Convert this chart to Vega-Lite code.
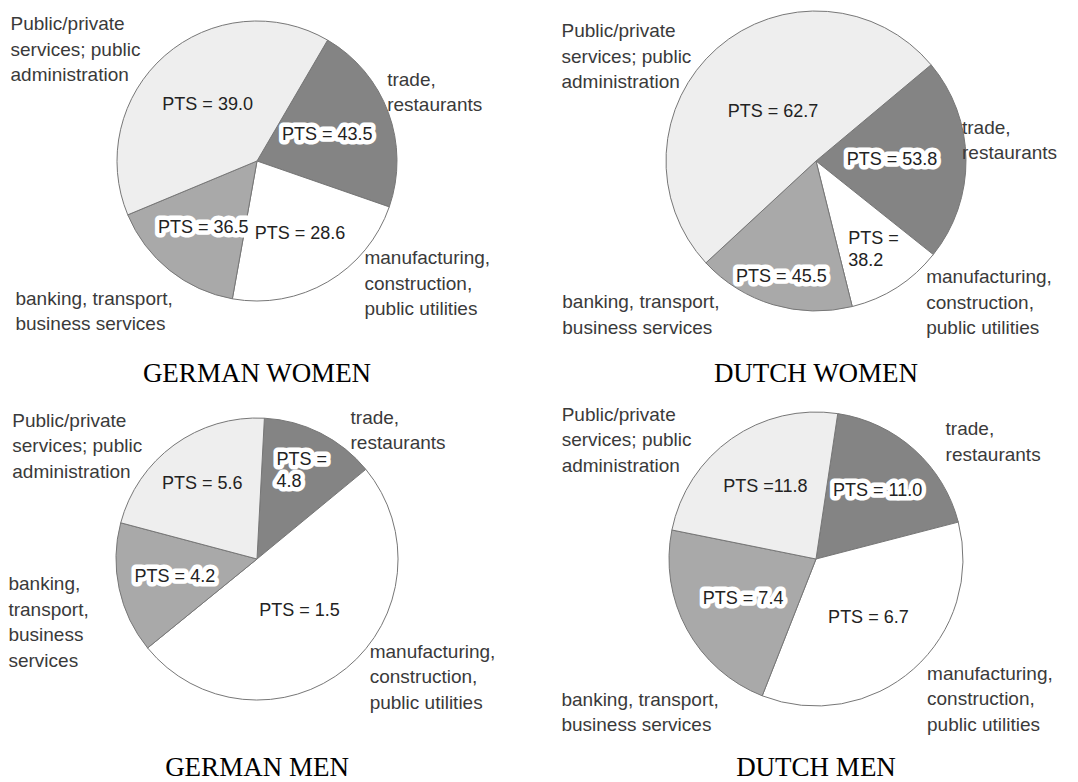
{
  "$schema": "https://vega.github.io/schema/vega-lite/v6.json",
  "padding": 0,
  "bounds": "flush",
  "background": "white",
  "columns": 2,
  "spacing": {"row": 76, "column": 45},
  "config": {"view": {"stroke": null}, "font": "Liberation Sans"},
  "datasets": {
    "pies": [
      {"panel": "GW", "cat": "trade", "k": 1, "share": 21.9, "pts": "PTS = 43.5", "label": "trade,\nrestaurants"},
      {"panel": "GW", "cat": "manuf", "k": 2, "share": 22.5, "pts": "PTS = 28.6", "label": "manufacturing,\nconstruction,\npublic utilities"},
      {"panel": "GW", "cat": "banking", "k": 3, "share": 15.9, "pts": "PTS = 36.5", "label": "banking, transport,\nbusiness services"},
      {"panel": "GW", "cat": "public", "k": 4, "share": 39.7, "pts": "PTS = 39.0", "label": "Public/private\nservices; public\nadministration"},
      {"panel": "DW", "cat": "trade", "k": 1, "share": 21.8, "pts": "PTS = 53.8", "label": "trade,\nrestaurants"},
      {"panel": "DW", "cat": "manuf", "k": 2, "share": 10.4, "pts": "PTS =\n38.2", "label": "manufacturing,\nconstruction,\npublic utilities"},
      {"panel": "DW", "cat": "banking", "k": 3, "share": 17.0, "pts": "PTS = 45.5", "label": "banking, transport,\nbusiness services"},
      {"panel": "DW", "cat": "public", "k": 4, "share": 50.8, "pts": "PTS = 62.7", "label": "Public/private\nservices; public\nadministration"},
      {"panel": "GM", "cat": "trade", "k": 1, "share": 13.2, "pts": "PTS =\n4.8", "label": "trade,\nrestaurants"},
      {"panel": "GM", "cat": "manuf", "k": 2, "share": 50.1, "pts": "PTS = 1.5", "label": "manufacturing,\nconstruction,\npublic utilities"},
      {"panel": "GM", "cat": "banking", "k": 3, "share": 15.0, "pts": "PTS = 4.2", "label": "banking,\ntransport,\nbusiness\nservices"},
      {"panel": "GM", "cat": "public", "k": 4, "share": 21.7, "pts": "PTS = 5.6", "label": "Public/private\nservices; public\nadministration"},
      {"panel": "DM", "cat": "trade", "k": 1, "share": 18.6, "pts": "PTS = 11.0", "label": "trade,\nrestaurants"},
      {"panel": "DM", "cat": "manuf", "k": 2, "share": 35.0, "pts": "PTS = 6.7", "label": "manufacturing,\nconstruction,\npublic utilities"},
      {"panel": "DM", "cat": "banking", "k": 3, "share": 22.2, "pts": "PTS = 7.4", "label": "banking, transport,\nbusiness services"},
      {"panel": "DM", "cat": "public", "k": 4, "share": 24.2, "pts": "PTS =11.8", "label": "Public/private\nservices; public\nadministration"}
    ]
  },
  "concat": [
    {
      "width": 514, "height": 322,
      "title": {"text": "GERMAN WOMEN", "orient": "bottom", "frame": "group", "offset": 27, "baseline": "top", "font": "Liberation Serif", "fontSize": 27, "fontWeight": "normal", "color": "black"},
      "data": {"name": "pies"},
      "transform": [{"filter": "datum.panel === 'GW'"}],
      "encoding": {
        "theta": {"field": "share", "type": "quantitative", "stack": true, "scale": {"domain": [0, 100], "range": [0.5288, 6.8120]}},
        "order": {"field": "k", "type": "quantitative", "sort": "ascending"}
      },
      "layer": [
        {"mark": {"type": "arc", "outerRadius": 140, "stroke": "#777777", "strokeWidth": 1},
         "encoding": {"color": {"field": "cat", "type": "nominal", "scale": {"domain": ["trade", "manuf", "banking", "public"], "range": ["#848484", "#ffffff", "#a9a9a9", "#eeeeee"]}, "legend": null}}},
        {"mark": {"type": "text", "radius": 75, "lineBreak": "\n", "fontSize": 18, "lineHeight": 22, "fill": "white", "stroke": "white", "strokeWidth": 9, "strokeJoin": "round"},
         "encoding": {"text": {"condition": {"test": "datum.cat === 'trade'", "field": "pts", "type": "nominal"}, "value": ""}}},
        {"mark": {"type": "text", "radius": 86, "lineBreak": "\n", "fontSize": 18, "lineHeight": 22, "fill": "white", "stroke": "white", "strokeWidth": 9, "strokeJoin": "round"},
         "encoding": {"text": {"condition": {"test": "datum.cat === 'banking'", "field": "pts", "type": "nominal"}, "value": ""}}},
        {"mark": {"type": "text", "radius": 75, "lineBreak": "\n", "fontSize": 18, "lineHeight": 22, "fill": "#222222"},
         "encoding": {"text": {"condition": {"test": "datum.cat === 'trade'", "field": "pts", "type": "nominal"}, "value": ""}}},
        {"mark": {"type": "text", "radius": 86, "lineBreak": "\n", "fontSize": 18, "lineHeight": 22, "fill": "#222222"},
         "encoding": {"text": {"condition": {"test": "datum.cat === 'banking'", "field": "pts", "type": "nominal"}, "value": ""}}},
        {"mark": {"type": "text", "radius": 85, "lineBreak": "\n", "fontSize": 18, "lineHeight": 22, "fill": "#222222"},
         "encoding": {"text": {"condition": {"test": "datum.cat === 'manuf'", "field": "pts", "type": "nominal"}, "value": ""}}},
        {"mark": {"type": "text", "radius": 75, "lineBreak": "\n", "fontSize": 18, "lineHeight": 22, "fill": "#222222"},
         "encoding": {"text": {"condition": {"test": "datum.cat === 'public'", "field": "pts", "type": "nominal"}, "value": ""}}},
        {"mark": {"type": "text", "radius": 25, "align": "left", "baseline": "middle", "dx": -230, "dy": -118, "lineBreak": "\n", "fontSize": 19, "lineHeight": 25.5, "fill": "#3a3a3a"},
         "encoding": {"text": {"condition": {"test": "datum.cat === 'public'", "field": "label", "type": "nominal"}, "value": ""}}},
        {"mark": {"type": "text", "radius": 110, "align": "left", "baseline": "middle", "dx": 27, "dy": -43, "lineBreak": "\n", "fontSize": 19, "lineHeight": 25.5, "fill": "#3a3a3a"},
         "encoding": {"text": {"condition": {"test": "datum.cat === 'trade'", "field": "label", "type": "nominal"}, "value": ""}}},
        {"mark": {"type": "text", "radius": 80, "align": "left", "baseline": "middle", "dx": 67, "dy": 28, "lineBreak": "\n", "fontSize": 19, "lineHeight": 25.5, "fill": "#3a3a3a"},
         "encoding": {"text": {"condition": {"test": "datum.cat === 'manuf'", "field": "label", "type": "nominal"}, "value": ""}}},
        {"mark": {"type": "text", "radius": 20, "align": "left", "baseline": "middle", "dx": -229, "dy": 122, "lineBreak": "\n", "fontSize": 19, "lineHeight": 25.5, "fill": "#3a3a3a"},
         "encoding": {"text": {"condition": {"test": "datum.cat === 'banking'", "field": "label", "type": "nominal"}, "value": ""}}}
      ]
    },
    {
      "width": 514, "height": 322,
      "title": {"text": "DUTCH WOMEN", "orient": "bottom", "frame": "group", "offset": 23, "baseline": "top", "font": "Liberation Serif", "fontSize": 27, "fontWeight": "normal", "color": "black"},
      "data": {"name": "pies"},
      "transform": [{"filter": "datum.panel === 'DW'"}],
      "encoding": {
        "theta": {"field": "share", "type": "quantitative", "stack": true, "scale": {"domain": [0, 100], "range": [0.8744, 7.1576]}},
        "order": {"field": "k", "type": "quantitative", "sort": "ascending"}
      },
      "layer": [
        {"mark": {"type": "arc", "outerRadius": 150, "stroke": "#777777", "strokeWidth": 1},
         "encoding": {"color": {"field": "cat", "type": "nominal", "scale": {"domain": ["trade", "manuf", "banking", "public"], "range": ["#848484", "#ffffff", "#a9a9a9", "#eeeeee"]}, "legend": null}}},
        {"mark": {"type": "text", "radius": 76, "lineBreak": "\n", "fontSize": 18, "lineHeight": 22, "fill": "white", "stroke": "white", "strokeWidth": 9, "strokeJoin": "round"},
         "encoding": {"text": {"condition": {"test": "datum.cat === 'trade'", "field": "pts", "type": "nominal"}, "value": ""}}},
        {"mark": {"type": "text", "radius": 121, "lineBreak": "\n", "fontSize": 18, "lineHeight": 22, "fill": "white", "stroke": "white", "strokeWidth": 9, "strokeJoin": "round"},
         "encoding": {"text": {"condition": {"test": "datum.cat === 'banking'", "field": "pts", "type": "nominal"}, "value": ""}}},
        {"mark": {"type": "text", "radius": 76, "lineBreak": "\n", "fontSize": 18, "lineHeight": 22, "fill": "#222222"},
         "encoding": {"text": {"condition": {"test": "datum.cat === 'trade'", "field": "pts", "type": "nominal"}, "value": ""}}},
        {"mark": {"type": "text", "radius": 121, "lineBreak": "\n", "fontSize": 18, "lineHeight": 22, "fill": "#222222"},
         "encoding": {"text": {"condition": {"test": "datum.cat === 'banking'", "field": "pts", "type": "nominal"}, "value": ""}}},
        {"mark": {"type": "text", "radius": 106, "align": "left", "dx": -25, "dy": -11, "lineBreak": "\n", "fontSize": 18, "lineHeight": 22, "fill": "#222222"},
         "encoding": {"text": {"condition": {"test": "datum.cat === 'manuf'", "field": "pts", "type": "nominal"}, "value": ""}}},
        {"mark": {"type": "text", "radius": 65, "lineBreak": "\n", "fontSize": 18, "lineHeight": 22, "fill": "#222222"},
         "encoding": {"text": {"condition": {"test": "datum.cat === 'public'", "field": "pts", "type": "nominal"}, "value": ""}}},
        {"mark": {"type": "text", "radius": 25, "align": "left", "baseline": "middle", "dx": -238, "dy": -111, "lineBreak": "\n", "fontSize": 19, "lineHeight": 25.5, "fill": "#3a3a3a"},
         "encoding": {"text": {"condition": {"test": "datum.cat === 'public'", "field": "label", "type": "nominal"}, "value": ""}}},
        {"mark": {"type": "text", "radius": 110, "align": "left", "baseline": "middle", "dx": 36, "dy": -32, "lineBreak": "\n", "fontSize": 19, "lineHeight": 25.5, "fill": "#3a3a3a"},
         "encoding": {"text": {"condition": {"test": "datum.cat === 'trade'", "field": "label", "type": "nominal"}, "value": ""}}},
        {"mark": {"type": "text", "radius": 80, "align": "left", "baseline": "middle", "dx": 67, "dy": 49, "lineBreak": "\n", "fontSize": 19, "lineHeight": 25.5, "fill": "#3a3a3a"},
         "encoding": {"text": {"condition": {"test": "datum.cat === 'manuf'", "field": "label", "type": "nominal"}, "value": ""}}},
        {"mark": {"type": "text", "radius": 20, "align": "left", "baseline": "middle", "dx": -248, "dy": 122, "lineBreak": "\n", "fontSize": 19, "lineHeight": 25.5, "fill": "#3a3a3a"},
         "encoding": {"text": {"condition": {"test": "datum.cat === 'banking'", "field": "label", "type": "nominal"}, "value": ""}}}
      ]
    },
    {
      "width": 514, "height": 322,
      "title": {"text": "GERMAN MEN", "orient": "bottom", "frame": "group", "offset": 35, "baseline": "top", "font": "Liberation Serif", "fontSize": 27, "fontWeight": "normal", "color": "black"},
      "data": {"name": "pies"},
      "transform": [{"filter": "datum.panel === 'GM'"}],
      "encoding": {
        "theta": {"field": "share", "type": "quantitative", "stack": true, "scale": {"domain": [0, 100], "range": [0.0524, 6.3356]}},
        "order": {"field": "k", "type": "quantitative", "sort": "ascending"}
      },
      "layer": [
        {"mark": {"type": "arc", "outerRadius": 141, "stroke": "#777777", "strokeWidth": 1},
         "encoding": {"color": {"field": "cat", "type": "nominal", "scale": {"domain": ["trade", "manuf", "banking", "public"], "range": ["#848484", "#ffffff", "#a9a9a9", "#eeeeee"]}, "legend": null}}},
        {"mark": {"type": "text", "radius": 99, "align": "left", "dx": -25, "dy": -11, "lineBreak": "\n", "fontSize": 18, "lineHeight": 22, "fill": "white", "stroke": "white", "strokeWidth": 9, "strokeJoin": "round"},
         "encoding": {"text": {"condition": {"test": "datum.cat === 'trade'", "field": "pts", "type": "nominal"}, "value": ""}}},
        {"mark": {"type": "text", "radius": 84, "lineBreak": "\n", "fontSize": 18, "lineHeight": 22, "fill": "white", "stroke": "white", "strokeWidth": 9, "strokeJoin": "round"},
         "encoding": {"text": {"condition": {"test": "datum.cat === 'banking'", "field": "pts", "type": "nominal"}, "value": ""}}},
        {"mark": {"type": "text", "radius": 99, "align": "left", "dx": -25, "dy": -11, "lineBreak": "\n", "fontSize": 18, "lineHeight": 22, "fill": "#222222"},
         "encoding": {"text": {"condition": {"test": "datum.cat === 'trade'", "field": "pts", "type": "nominal"}, "value": ""}}},
        {"mark": {"type": "text", "radius": 84, "lineBreak": "\n", "fontSize": 18, "lineHeight": 22, "fill": "#222222"},
         "encoding": {"text": {"condition": {"test": "datum.cat === 'banking'", "field": "pts", "type": "nominal"}, "value": ""}}},
        {"mark": {"type": "text", "radius": 67, "lineBreak": "\n", "fontSize": 18, "lineHeight": 22, "fill": "#222222"},
         "encoding": {"text": {"condition": {"test": "datum.cat === 'manuf'", "field": "pts", "type": "nominal"}, "value": ""}}},
        {"mark": {"type": "text", "radius": 93, "lineBreak": "\n", "fontSize": 18, "lineHeight": 22, "fill": "#222222"},
         "encoding": {"text": {"condition": {"test": "datum.cat === 'public'", "field": "pts", "type": "nominal"}, "value": ""}}},
        {"mark": {"type": "text", "radius": 25, "align": "left", "baseline": "middle", "dx": -230, "dy": -118, "lineBreak": "\n", "fontSize": 19, "lineHeight": 25.5, "fill": "#3a3a3a"},
         "encoding": {"text": {"condition": {"test": "datum.cat === 'public'", "field": "label", "type": "nominal"}, "value": ""}}},
        {"mark": {"type": "text", "radius": 110, "align": "left", "baseline": "middle", "dx": 44, "dy": -43, "lineBreak": "\n", "fontSize": 19, "lineHeight": 25.5, "fill": "#3a3a3a"},
         "encoding": {"text": {"condition": {"test": "datum.cat === 'trade'", "field": "label", "type": "nominal"}, "value": ""}}},
        {"mark": {"type": "text", "radius": 80, "align": "left", "baseline": "middle", "dx": 62, "dy": 31, "lineBreak": "\n", "fontSize": 19, "lineHeight": 25.5, "fill": "#3a3a3a"},
         "encoding": {"text": {"condition": {"test": "datum.cat === 'manuf'", "field": "label", "type": "nominal"}, "value": ""}}},
        {"mark": {"type": "text", "radius": 20, "align": "left", "baseline": "middle", "dx": -229, "dy": 21, "lineBreak": "\n", "fontSize": 19, "lineHeight": 25.5, "fill": "#3a3a3a"},
         "encoding": {"text": {"condition": {"test": "datum.cat === 'banking'", "field": "label", "type": "nominal"}, "value": ""}}}
      ]
    },
    {
      "width": 514, "height": 322,
      "title": {"text": "DUTCH MEN", "orient": "bottom", "frame": "group", "offset": 20, "baseline": "top", "font": "Liberation Serif", "fontSize": 27, "fontWeight": "normal", "color": "black"},
      "data": {"name": "pies"},
      "transform": [{"filter": "datum.panel === 'DM'"}],
      "encoding": {
        "theta": {"field": "share", "type": "quantitative", "stack": true, "scale": {"domain": [0, 100], "range": [0.1484, 6.4316]}},
        "order": {"field": "k", "type": "quantitative", "sort": "ascending"}
      },
      "layer": [
        {"mark": {"type": "arc", "outerRadius": 147, "stroke": "#777777", "strokeWidth": 1},
         "encoding": {"color": {"field": "cat", "type": "nominal", "scale": {"domain": ["trade", "manuf", "banking", "public"], "range": ["#848484", "#ffffff", "#a9a9a9", "#eeeeee"]}, "legend": null}}},
        {"mark": {"type": "text", "radius": 92, "lineBreak": "\n", "fontSize": 18, "lineHeight": 22, "fill": "white", "stroke": "white", "strokeWidth": 9, "strokeJoin": "round"},
         "encoding": {"text": {"condition": {"test": "datum.cat === 'trade'", "field": "pts", "type": "nominal"}, "value": ""}}},
        {"mark": {"type": "text", "radius": 83, "lineBreak": "\n", "fontSize": 18, "lineHeight": 22, "fill": "white", "stroke": "white", "strokeWidth": 9, "strokeJoin": "round"},
         "encoding": {"text": {"condition": {"test": "datum.cat === 'banking'", "field": "pts", "type": "nominal"}, "value": ""}}},
        {"mark": {"type": "text", "radius": 92, "lineBreak": "\n", "fontSize": 18, "lineHeight": 22, "fill": "#222222"},
         "encoding": {"text": {"condition": {"test": "datum.cat === 'trade'", "field": "pts", "type": "nominal"}, "value": ""}}},
        {"mark": {"type": "text", "radius": 83, "lineBreak": "\n", "fontSize": 18, "lineHeight": 22, "fill": "#222222"},
         "encoding": {"text": {"condition": {"test": "datum.cat === 'banking'", "field": "pts", "type": "nominal"}, "value": ""}}},
        {"mark": {"type": "text", "radius": 79, "lineBreak": "\n", "fontSize": 18, "lineHeight": 22, "fill": "#222222"},
         "encoding": {"text": {"condition": {"test": "datum.cat === 'manuf'", "field": "pts", "type": "nominal"}, "value": ""}}},
        {"mark": {"type": "text", "radius": 88, "lineBreak": "\n", "fontSize": 18, "lineHeight": 22, "fill": "#222222"},
         "encoding": {"text": {"condition": {"test": "datum.cat === 'public'", "field": "pts", "type": "nominal"}, "value": ""}}},
        {"mark": {"type": "text", "radius": 25, "align": "left", "baseline": "middle", "dx": -240, "dy": -124, "lineBreak": "\n", "fontSize": 19, "lineHeight": 25.5, "fill": "#3a3a3a"},
         "encoding": {"text": {"condition": {"test": "datum.cat === 'public'", "field": "label", "type": "nominal"}, "value": ""}}},
        {"mark": {"type": "text", "radius": 110, "align": "left", "baseline": "middle", "dx": 56, "dy": -48, "lineBreak": "\n", "fontSize": 19, "lineHeight": 25.5, "fill": "#3a3a3a"},
         "encoding": {"text": {"condition": {"test": "datum.cat === 'trade'", "field": "label", "type": "nominal"}, "value": ""}}},
        {"mark": {"type": "text", "radius": 80, "align": "left", "baseline": "middle", "dx": 58, "dy": 55, "lineBreak": "\n", "fontSize": 19, "lineHeight": 25.5, "fill": "#3a3a3a"},
         "encoding": {"text": {"condition": {"test": "datum.cat === 'manuf'", "field": "label", "type": "nominal"}, "value": ""}}},
        {"mark": {"type": "text", "radius": 20, "align": "left", "baseline": "middle", "dx": -237, "dy": 131, "lineBreak": "\n", "fontSize": 19, "lineHeight": 25.5, "fill": "#3a3a3a"},
         "encoding": {"text": {"condition": {"test": "datum.cat === 'banking'", "field": "label", "type": "nominal"}, "value": ""}}}
      ]
    }
  ]
}
